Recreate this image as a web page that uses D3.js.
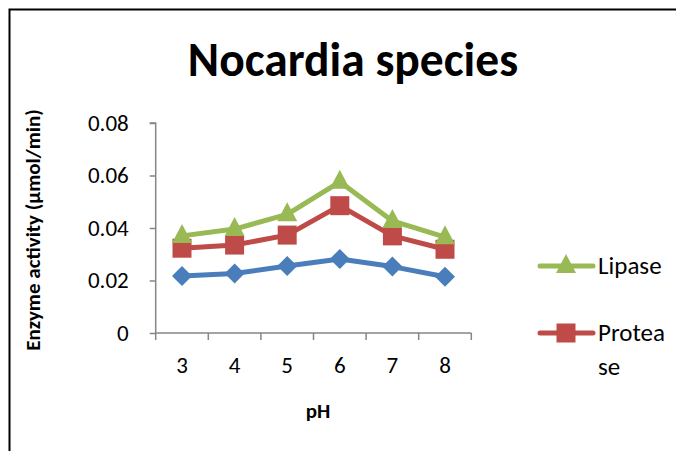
<!DOCTYPE html>
<html><head><meta charset="utf-8">
<script src="https://cdn.jsdelivr.net/npm/d3@7"></script>
<style>
html,body{margin:0;padding:0;background:#fff;}
svg{display:block;}
text{font-family:Carlito,Calibri,Lato,"Open Sans",sans-serif;}
</style></head>
<body>
<svg id="c" width="676" height="451"></svg>
<script>
const categories = ["3","4","5","6","7","8"];
const seriesNames = ["Amylase","Protease","Lipase"];
const amylase = [0.0217,0.0227,0.0255,0.0282,0.0253,0.0214];
const protease = [0.0323,0.0335,0.0373,0.0485,0.0370,0.0319];
const lipase = [0.0370,0.0396,0.0452,0.0576,0.0427,0.0365];
const yTicks = [0,0.02,0.04,0.06,0.08];
const yTickLabels = ["0","0.02","0.04","0.06","0.08"];
const legendItems = ["Lipase","Protease"];

const FF = "Carlito,Calibri,Lato,sans-serif";
const svg = d3.select("#c");
svg.append("path").attr("d","M9.5,451 V9.5 H676").attr("fill","none").attr("stroke","#000").attr("stroke-width",2);

const x0 = 155.7, x1 = 471.3, yBase = 333, yTop = 123;
const x = d3.scaleBand().domain(categories).range([x0,x1]).padding(0);
const xb = d3.scaleLinear().domain([0,categories.length]).range([x0,x1]);
const y = d3.scaleLinear().domain([0,0.08]).range([yBase,yTop]);
const axisCol = "#868686";

const ya = svg.append("g").attr("transform",`translate(${x0},0)`)
  .call(d3.axisLeft(y).tickValues(yTicks).tickSize(6).tickFormat((d,i)=>yTickLabels[i]).tickPadding(21));
ya.select(".domain").attr("stroke",axisCol).attr("stroke-width",1.5).attr("d",`M-6,${yTop}H0V${yBase}`);
ya.selectAll(".tick line").attr("stroke",axisCol).attr("stroke-width",1.5);
ya.selectAll(".tick text").attr("font-size",23).attr("fill","#000").attr("font-family",FF);

const xa = svg.append("g").attr("transform",`translate(0,${yBase})`)
  .call(d3.axisBottom(x).tickSize(0).tickPadding(24));
xa.select(".domain").remove();
xa.selectAll(".tick text").attr("font-size",23).attr("fill","#000").attr("font-family",FF);
svg.append("line").attr("x1",x0).attr("x2",x1).attr("y1",yBase).attr("y2",yBase).attr("stroke",axisCol).attr("stroke-width",1.5);
svg.append("g").selectAll("line").data(d3.range(categories.length+1)).join("line")
  .attr("x1",d=>xb(d)).attr("x2",d=>xb(d)).attr("y1",yBase).attr("y2",yBase+7)
  .attr("stroke",axisCol).attr("stroke-width",1.5);

const series = [
  {name:"Amylase", vals:amylase, color:"#4a7ebb", marker:"diamond"},
  {name:"Protease", vals:protease, color:"#be4b48", marker:"square"},
  {name:"Lipase", vals:lipase, color:"#98b954", marker:"triangle"}
];
const line = d3.line().x((d,i)=>x(categories[i])+x.bandwidth()/2).y(d=>y(d));
function markerPath(type){
  if(type==="diamond") return "M0,-10L10,0L0,10L-10,0Z";
  if(type==="square") return "M-9.5,-9.5H9.5V9.5H-9.5Z";
  return "M0,-12L10,7H-10Z";
}
series.forEach(s=>{
  const g = svg.append("g");
  g.append("path").datum(s.vals).attr("d",line).attr("fill","none").attr("stroke",s.color).attr("stroke-width",5).attr("stroke-linejoin","round");
  g.selectAll("path.m").data(s.vals).join("path").attr("class","m")
    .attr("transform",(d,i)=>`translate(${x(categories[i])+x.bandwidth()/2},${y(d)})`)
    .attr("d",markerPath(s.marker)).attr("fill",s.color);
});

const legendY = [266, 333];
legendItems.forEach((name,k)=>{
  const s = series.find(q=>q.name===name);
  const g = svg.append("g").attr("transform",`translate(0,${legendY[k]})`);
  g.append("line").attr("x1",540).attr("x2",593).attr("y1",0).attr("y2",0).attr("stroke",s.color).attr("stroke-width",5).attr("stroke-linecap","round");
  g.append("path").attr("transform","translate(566,0)").attr("d",markerPath(s.marker)).attr("fill",s.color);
  const t = g.append("text").attr("x",598).attr("y",8).attr("font-size",25).attr("fill","#000");
  if(name==="Protease"){
    t.append("tspan").attr("x",598).text("Protea");
    t.append("tspan").attr("x",598).attr("dy",34).text("se");
  } else t.text(name);
});

svg.append("text").attr("x",353).attr("y",76).attr("text-anchor","middle").attr("font-size",47.5).attr("font-weight","bold").text("Nocardia species");
svg.append("text").attr("transform","translate(40,230) rotate(-90)").attr("text-anchor","middle").attr("font-size",21).attr("font-weight","bold").text("Enzyme activity (µmol/min)");
svg.append("text").attr("x",318).attr("y",418).attr("text-anchor","middle").attr("font-size",21).attr("font-weight","bold").text("pH");
</script>
</body></html>
